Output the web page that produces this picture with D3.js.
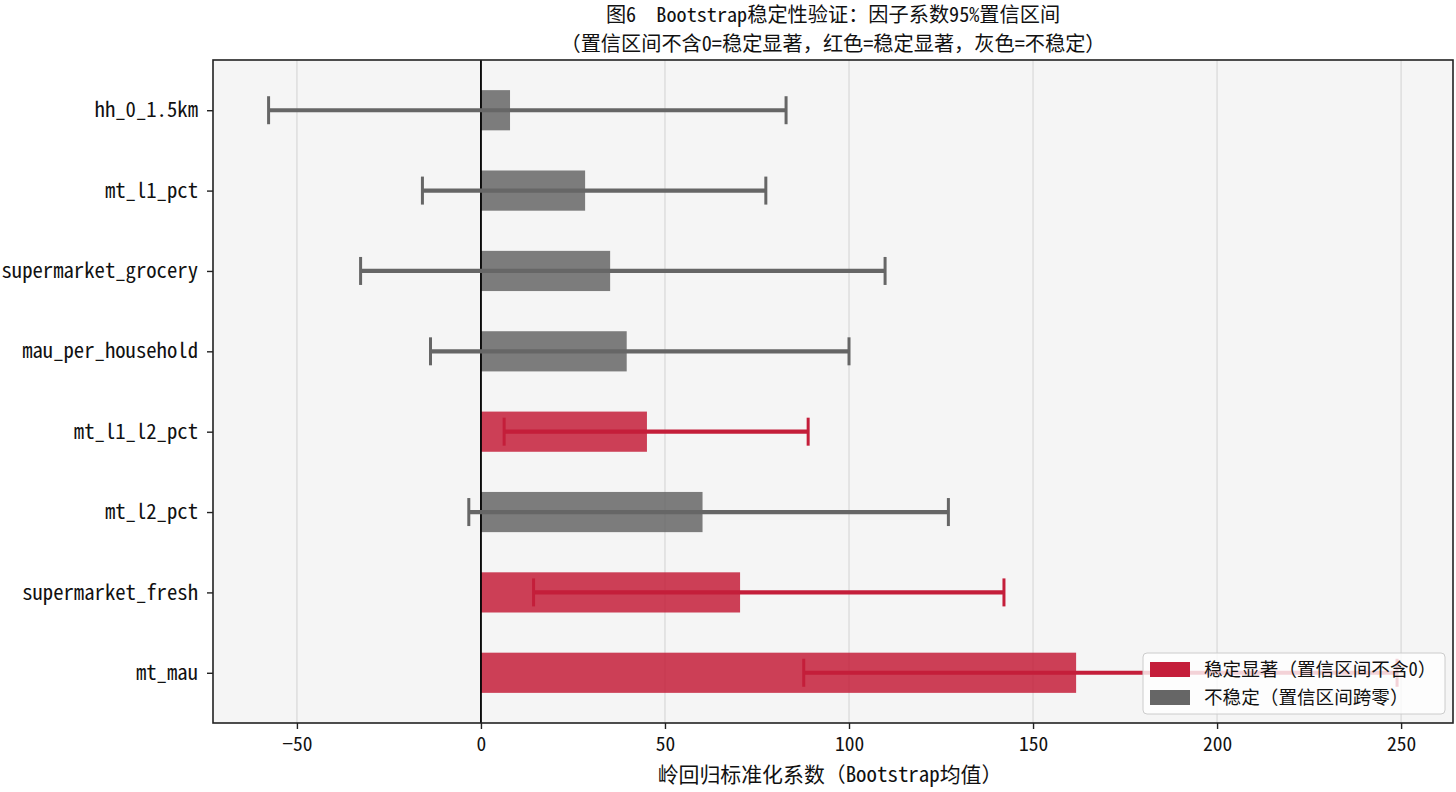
<!DOCTYPE html>
<html>
<head>
<meta charset="utf-8">
<script src="https://cdn.jsdelivr.net/npm/d3@7/dist/d3.min.js"></script>
<style>
  html, body { margin: 0; padding: 0; background: #ffffff; }
  svg { display: block; }
  .mono { font-family: "Noto Sans Mono CJK SC", "Noto Sans CJK SC", "DejaVu Sans Mono", monospace; }
</style>
</head>
<body>
<svg id="chart" width="1456" height="792"></svg>
<script>
// ---- data (top to bottom) ----
const categories = ["hh_0_1.5km", "mt_l1_pct", "supermarket_grocery", "mau_per_household",
                    "mt_l1_l2_pct", "mt_l2_pct", "supermarket_fresh", "mt_mau"];
const means   = [7.9, 28.3, 35.1, 39.6, 45.1, 60.2, 70.4, 161.7];
const ciLow   = [-57.7, -15.9, -32.7, -13.7, 6.3, -3.3, 14.3, 87.7];
const ciHigh  = [82.9, 77.4, 109.8, 100.0, 88.9, 127.0, 142.1, 248.9];
const xTicks  = [-50, 0, 50, 100, 150, 200, 250];
const titleLines = ["图6\u00A0\u00A0Bootstrap稳定性验证：因子系数95%置信区间",
                    "（置信区间不含0=稳定显著，红色=稳定显著，灰色=不稳定）"];
const xLabel = "岭回归标准化系数（Bootstrap均值）";
const legendLabels = ["稳定显著（置信区间不含0）", "不稳定（置信区间跨零）"];

const RED = "#C41E3A", GRAY = "#666666";
const stable = categories.map((c, i) => ciLow[i] > 0 || ciHigh[i] < 0);

const svg = d3.select("#chart");
const L = 213, R = 1453, T = 60, B = 723;
const x = d3.scaleLinear().domain([-72.8, 264.1]).range([L, R]);
const y = d3.scaleLinear().domain([-0.625, categories.length - 1 + 0.625]).range([T, B]);
const bandH = y(0.5) - y(0);

// background
svg.append("rect").attr("x", L).attr("y", T).attr("width", R - L).attr("height", B - T)
  .attr("fill", "#f5f5f5");

// grid
svg.append("g").selectAll("line").data(xTicks).join("line")
  .attr("x1", d => x(d)).attr("x2", d => x(d)).attr("y1", T).attr("y2", B)
  .attr("stroke", "#dcdcdc").attr("stroke-width", 1.4);

// bars
svg.append("g").selectAll("rect").data(categories).join("rect")
  .attr("x", (d, i) => Math.min(x(0), x(means[i])))
  .attr("width", (d, i) => Math.abs(x(means[i]) - x(0)))
  .attr("y", (d, i) => y(i) - bandH / 2)
  .attr("height", bandH)
  .attr("fill", (d, i) => stable[i] ? RED : GRAY)
  .attr("fill-opacity", 0.85);

// zero line
svg.append("line").attr("x1", x(0)).attr("x2", x(0)).attr("y1", T).attr("y2", B)
  .attr("stroke", "#000").attr("stroke-width", 1.8);

// error bars
const eg = svg.append("g");
categories.forEach((c, i) => {
  const col = stable[i] ? RED : GRAY;
  eg.append("line").attr("x1", x(ciLow[i])).attr("x2", x(ciHigh[i]))
    .attr("y1", y(i)).attr("y2", y(i)).attr("stroke", col).attr("stroke-width", 4.2);
  [ciLow[i], ciHigh[i]].forEach(v => {
    eg.append("line").attr("x1", x(v)).attr("x2", x(v))
      .attr("y1", y(i) - 14).attr("y2", y(i) + 14)
      .attr("stroke", col).attr("stroke-width", 3);
  });
});

// frame
svg.append("rect").attr("x", L).attr("y", T).attr("width", R - L).attr("height", B - T)
  .attr("fill", "none").attr("stroke", "#222").attr("stroke-width", 1.6);

// y axis
const yAxis = d3.axisLeft(y).tickValues(d3.range(categories.length))
  .tickFormat(i => categories[i]).tickSize(6).tickPadding(9);
const ya = svg.append("g").attr("transform", `translate(${L},0)`).call(yAxis);
ya.select(".domain").remove();
ya.selectAll("line").attr("stroke", "#222").attr("stroke-width", 1.4);
ya.selectAll("text").attr("class", "mono").attr("font-size", 20.7).attr("fill", "#111");

// x axis
const xAxis = d3.axisBottom(x).tickValues(xTicks)
  .tickFormat(d => d < 0 ? "\u2212" + Math.abs(d) : String(d)).tickSize(6).tickPadding(8);
const xa = svg.append("g").attr("transform", `translate(0,${B})`).call(xAxis);
xa.select(".domain").remove();
xa.selectAll("line").attr("stroke", "#222").attr("stroke-width", 1.4);
xa.selectAll("text").attr("class", "mono").attr("font-size", 19.5).attr("fill", "#111");

// x label
svg.append("text").attr("class", "mono").attr("x", (L + R) / 2 - 3).attr("y", 782)
  .attr("text-anchor", "middle").attr("font-size", 20.9).attr("fill", "#111").text(xLabel);

// title (two lines)
titleLines.forEach((t, k) => {
  svg.append("text").attr("class", "mono").attr("x", (L + R) / 2).attr("y", 22 + k * 29)
    .attr("text-anchor", "middle").attr("font-size", 20.2).attr("fill", "#111").text(t);
});

// legend
const lg = svg.append("g").attr("transform", "translate(1143,653)");
lg.append("rect").attr("width", 302).attr("height", 61).attr("rx", 4)
  .attr("fill", "#ffffff").attr("fill-opacity", 0.8)
  .attr("stroke", "#cccccc").attr("stroke-width", 1);
[RED, GRAY].forEach((col, k) => {
  lg.append("rect").attr("x", 7).attr("y", 9 + k * 28).attr("width", 40).attr("height", 15)
    .attr("fill", col);
  lg.append("text").attr("class", "mono").attr("x", 61).attr("y", 23 + k * 28)
    .attr("font-size", 18.6).attr("fill", "#111").text(legendLabels[k]);
});
</script>
</body>
</html>
